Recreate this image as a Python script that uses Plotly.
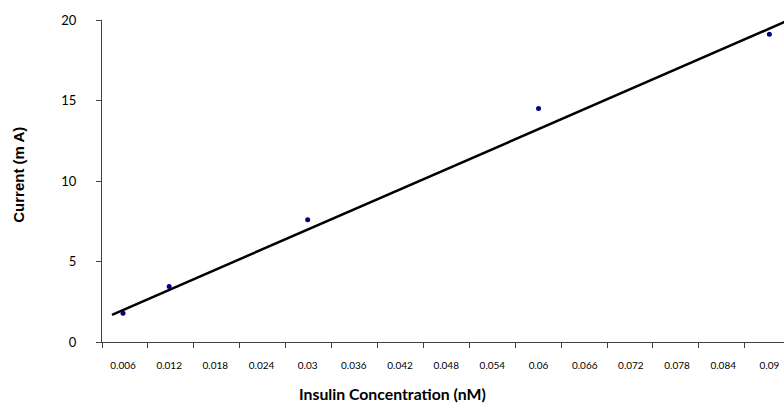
import plotly.graph_objects as go

# Data
conc_nM = [0.006, 0.012, 0.03, 0.06, 0.09]
current_mA = [1.79, 3.44, 7.60, 14.50, 19.11]

# Linear trendline endpoints (as drawn in the reference)
trend_x = [0.00457, 0.0930]
trend_y = [1.69, 20.09]

x_tickvals = [0.006, 0.012, 0.018, 0.024, 0.03, 0.036, 0.042, 0.048,
              0.054, 0.06, 0.066, 0.072, 0.078, 0.084, 0.09]
x_ticktext = ["0.006", "0.012", "0.018", "0.024", "0.03", "0.036", "0.042", "0.048",
              "0.054", "0.06", "0.066", "0.072", "0.078", "0.084", "0.09"]
y_tickvals = [0, 5, 10, 15, 20]

x_title = "Insulin Concentration (nM)"
y_title = "Current (m A)"

FONT = "Lato"

fig = go.Figure()
fig.add_trace(go.Scatter(
    x=trend_x, y=trend_y, mode="lines",
    line=dict(color="black", width=2.5),
    hoverinfo="skip", showlegend=False,
))
fig.add_trace(go.Scatter(
    x=conc_nM, y=current_mA, mode="markers",
    marker=dict(color="#000080", size=5),
    showlegend=False,
))

fig.update_layout(
    width=784, height=403,
    margin=dict(l=102, r=0, t=20, b=60.5),
    paper_bgcolor="white", plot_bgcolor="white",
    font=dict(family=FONT, color="black"),
    xaxis=dict(
        range=[0.00327, 0.0919],
        tickmode="array", tickvals=x_tickvals, ticktext=x_ticktext,
        ticks="", ticklabelstandoff=14,
        tickfont=dict(size=10, family=FONT, color="black"),
        showgrid=False, zeroline=False,
        showline=True, linecolor="#404040", linewidth=1,
        minor=dict(ticks="outside", ticklen=5, tickcolor="#404040",
                   tick0=0.00327, dtick=0.005967, showgrid=False),
    ),
    yaxis=dict(
        range=[0, 20],
        tickmode="array", tickvals=y_tickvals,
        ticks="outside", ticklen=5, tickcolor="#404040",
        ticklabelstandoff=17,
        tickfont=dict(size=13, family=FONT, color="black"),
        showgrid=False, zeroline=False,
        showline=True, linecolor="#404040", linewidth=1,
    ),
    annotations=[
        dict(text="<b>" + x_title + "</b>", xref="paper", yref="paper",
             x=0.4255, y=-0.1597, xanchor="center", yanchor="middle",
             showarrow=False, font=dict(size=15.8, family=FONT, color="black")),
        dict(text="<b>" + y_title + "</b>", xref="paper", yref="paper",
             x=-0.1219, y=0.519, xanchor="center", yanchor="middle",
             textangle=-90, showarrow=False,
             font=dict(size=15, family="Liberation Sans", color="black")),
    ],
)

fig.write_html(
    "out.html",
    config={"displayModeBar": False},
    post_script="document.body.style.margin='0px';document.body.style.overflow='hidden';",
)
